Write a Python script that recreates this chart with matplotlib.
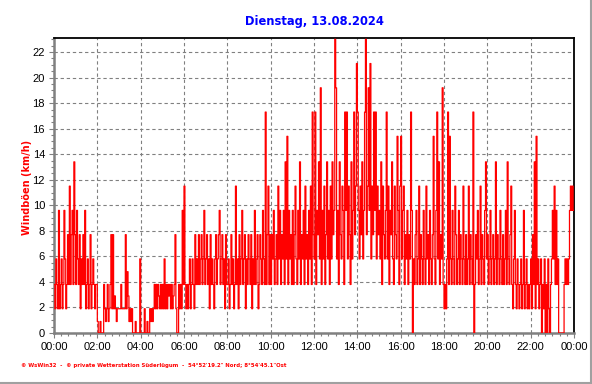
import numpy as np
import matplotlib
matplotlib.use("Agg")
import matplotlib.pyplot as plt
from matplotlib.lines import Line2D

title = "Dienstag, 13.08.2024"
ylabel = "Windböen (km/h)"
footer = "\u00a9 WsWin32  -  \u00a9 private Wetterstation Süderlügum  -  54°52'19.2\" Nord; 8°54'45.1\"Ost"

x_ticks_h = [0, 2, 4, 6, 8, 10, 12, 14, 16, 18, 20, 22, 24]
x_tick_labels = ["00:00", "02:00", "04:00", "06:00", "08:00", "10:00", "12:00",
                 "14:00", "16:00", "18:00", "20:00", "22:00", "00:00"]
y_ticks = [0, 2, 4, 6, 8, 10, 12, 14, 16, 18, 20, 22]

# wind gusts, 2.5-minute samples, one row per hour (km/h)
gust_rows = [
    [3.8, 1.9, 5.8, 3.8, 1.9, 9.6, 1.9, 3.8, 5.8, 1.9, 3.8, 9.6, 5.8, 1.9, 3.8, 7.7, 3.8, 11.5, 3.8, 7.7, 9.6, 3.8, 13.4, 7.7],
    [3.8, 9.6, 5.8, 3.8, 7.7, 1.9, 5.8, 3.8, 7.7, 3.8, 9.6, 1.9, 3.8, 5.8, 1.9, 3.8, 7.7, 1.9, 3.8, 5.8, 3.8, 1.9, 3.8, 3.8],
    [0.9, 0.0, 0.0, 0.9, 0.0, 0.0, 0.0, 3.8, 1.9, 0.9, 1.9, 3.8, 0.9, 1.9, 3.8, 7.7, 1.9, 7.7, 1.9, 2.9, 1.9, 0.9, 1.9, 1.9],
    [1.9, 1.9, 3.8, 1.9, 1.9, 1.9, 1.9, 7.7, 1.9, 4.8, 2.9, 0.9, 1.9, 0.9, 1.9, 0.0, 0.0, 0.0, 0.9, 0.0, 0.0, 0.0, 0.0, 5.8],
    [0.0, 0.0, 0.0, 0.0, 1.9, 0.0, 0.0, 0.9, 0.0, 0.0, 1.9, 0.9, 1.9, 0.9, 1.9, 3.8, 1.9, 3.8, 1.9, 3.8, 2.9, 1.9, 3.8, 1.9],
    [3.8, 1.9, 5.8, 1.9, 3.8, 1.9, 3.8, 2.9, 3.8, 1.9, 3.8, 1.9, 2.9, 3.8, 7.7, 1.9, 0.0, 0.0, 3.8, 1.9, 3.8, 1.9, 9.6, 3.8],
    [11.5, 3.8, 1.9, 3.8, 1.9, 3.8, 5.8, 1.9, 3.8, 5.8, 3.8, 1.9, 7.7, 3.8, 5.8, 3.8, 7.7, 3.8, 5.8, 7.7, 3.8, 5.8, 9.6, 3.8],
    [5.8, 7.7, 3.8, 5.8, 1.9, 7.7, 3.8, 5.8, 3.8, 1.9, 5.8, 7.7, 3.8, 5.8, 7.7, 9.6, 3.8, 5.8, 7.7, 3.8, 5.8, 1.9, 7.7, 3.8],
    [3.8, 5.8, 1.9, 3.8, 7.7, 3.8, 5.8, 1.9, 3.8, 11.5, 3.8, 5.8, 1.9, 7.7, 3.8, 5.8, 9.6, 3.8, 5.8, 7.7, 1.9, 5.8, 3.8, 7.7],
    [5.8, 3.8, 7.7, 1.9, 5.8, 3.8, 9.6, 3.8, 5.8, 7.7, 1.9, 3.8, 7.7, 5.8, 3.8, 9.6, 5.8, 3.8, 17.3, 3.8, 7.7, 11.5, 3.8, 7.7],
    [3.8, 7.7, 5.8, 9.6, 3.8, 5.8, 7.7, 3.8, 11.5, 5.8, 9.6, 3.8, 7.7, 5.8, 9.6, 3.8, 13.4, 5.8, 15.4, 3.8, 9.6, 5.8, 7.7, 3.8],
    [9.6, 3.8, 7.7, 11.5, 5.8, 3.8, 9.6, 5.8, 13.4, 3.8, 7.7, 5.8, 9.6, 3.8, 11.5, 5.8, 7.7, 3.8, 9.6, 5.8, 11.5, 3.8, 17.3, 7.7],
    [5.8, 17.3, 3.8, 9.6, 7.7, 13.4, 5.8, 19.2, 3.8, 9.6, 5.8, 11.5, 3.8, 7.7, 13.4, 5.8, 9.6, 3.8, 11.5, 5.8, 13.4, 7.7, 9.6, 23.0],
    [19.2, 5.8, 9.6, 3.8, 13.4, 7.7, 5.8, 11.5, 9.6, 3.8, 17.3, 9.6, 17.3, 5.8, 11.5, 7.7, 3.8, 13.4, 5.8, 9.6, 17.3, 7.7, 11.5, 21.1],
    [17.3, 9.6, 5.8, 11.5, 7.7, 13.4, 5.8, 9.6, 17.3, 23.0, 7.7, 11.5, 19.2, 9.6, 21.1, 5.8, 11.5, 7.7, 17.3, 9.6, 17.3, 5.8, 11.5, 7.7],
    [9.6, 5.8, 13.4, 3.8, 11.5, 7.7, 5.8, 9.6, 17.3, 5.8, 11.5, 3.8, 9.6, 7.7, 13.4, 5.8, 3.8, 11.5, 7.7, 5.8, 15.4, 9.6, 3.8, 11.5],
    [15.4, 5.8, 9.6, 11.5, 3.8, 7.7, 5.8, 9.6, 3.8, 7.7, 5.8, 17.3, 9.6, 0.0, 5.8, 3.8, 7.7, 9.6, 3.8, 5.8, 11.5, 3.8, 7.7, 5.8],
    [3.8, 9.6, 5.8, 3.8, 11.5, 5.8, 7.7, 3.8, 9.6, 5.8, 3.8, 7.7, 15.4, 5.8, 3.8, 9.6, 17.3, 5.8, 13.4, 3.8, 7.7, 5.8, 19.2, 3.8],
    [1.9, 3.8, 1.9, 5.8, 17.3, 3.8, 15.4, 5.8, 3.8, 9.6, 5.8, 3.8, 11.5, 7.7, 3.8, 5.8, 9.6, 3.8, 7.7, 5.8, 3.8, 11.5, 5.8, 3.8],
    [7.7, 3.8, 5.8, 11.5, 3.8, 7.7, 5.8, 3.8, 17.3, 0.0, 3.8, 7.7, 5.8, 9.6, 3.8, 5.8, 11.5, 3.8, 7.7, 5.8, 3.8, 9.6, 13.4, 5.8],
    [7.7, 3.8, 5.8, 9.6, 3.8, 5.8, 7.7, 3.8, 5.8, 13.4, 3.8, 7.7, 5.8, 3.8, 9.6, 5.8, 3.8, 7.7, 3.8, 5.8, 9.6, 3.8, 13.4, 5.8],
    [3.8, 7.7, 11.5, 3.8, 1.9, 5.8, 9.6, 3.8, 1.9, 5.8, 3.8, 1.9, 3.8, 5.8, 1.9, 3.8, 9.6, 1.9, 3.8, 5.8, 1.9, 3.8, 1.9, 3.8],
    [5.8, 1.9, 7.7, 3.8, 13.4, 1.9, 15.4, 3.8, 5.8, 1.9, 3.8, 5.8, 0.0, 3.8, 1.9, 5.8, 0.0, 3.8, 0.0, 5.8, 1.9, 0.0, 3.8, 5.8],
    [9.6, 5.8, 11.5, 3.8, 9.6, 3.8, 5.8, 0.0, 0.0, 0.0, 0.0, 0.0, 0.0, 3.8, 5.8, 3.8, 5.8, 3.8, 5.8, 9.6, 11.5, 9.6, 11.5, 9.6],
]

gust = np.array([v for row in gust_rows for v in row])
n = len(gust)
t = np.arange(n + 1) * 24.0 / n
g = np.append(gust, gust[-1])

W, H = 592, 384
fig = plt.figure(figsize=(W / 100, H / 100), dpi=100)
fig.patch.set_facecolor("white")
ax = fig.add_axes([54 / W, 1 - 333 / H, (574 - 54) / W, (333 - 38) / H])

ax.step(t, g, where="post", color="#ff0000", lw=0.9, zorder=3)

ax.set_xlim(0, 24)
ax.set_ylim(0, 23.1)
ax.set_xticks(x_ticks_h)
ax.set_xticklabels(x_tick_labels, fontfamily="Liberation Sans", fontsize=8)
ax.set_yticks(y_ticks)
ax.set_yticklabels([str(v) for v in y_ticks], fontfamily="Liberation Sans", fontsize=8)
ax.set_xticks(np.arange(0, 24.01, 1 / 3), minor=True)
ax.set_yticks(np.arange(0, 23.01, 0.5), minor=True)
ax.tick_params(which="major", length=3.5, width=0.8, color="#808080", pad=3)
ax.tick_params(which="minor", length=2, width=0.8, color="#808080")

ax.grid(True, which="major", color="#808080", linestyle=(0, (3, 2.5)), lw=0.8, zorder=1)
ax.set_axisbelow(True)

for s in ("top", "right"):
    ax.spines[s].set_color("black")
    ax.spines[s].set_linewidth(1.3)
for s in ("left", "bottom"):
    ax.spines[s].set_color("#808080")
    ax.spines[s].set_linewidth(1.8)

fig.text(314 / W, 1 - 22 / H, title, color="#0000ff", fontweight="bold",
         fontfamily="DejaVu Sans", fontsize=8.3, ha="center", va="center")
fig.text(27 / W, 1 - 187 / H, ylabel, color="#ff0000", fontweight="bold",
         fontfamily="DejaVu Sans", fontsize=7, rotation=90, ha="center", va="center")
fig.text(21 / W, 1 - 365 / H, footer, color="#ff0000", fontweight="bold",
         fontfamily="DejaVu Sans", fontsize=3.9, ha="left", va="center")

fig.add_artist(Line2D([590.5 / W, 590.5 / W], [0, 1], color="#a0a0a0", lw=1.5))
fig.add_artist(Line2D([0, 1], [1 - 382.5 / H, 1 - 382.5 / H], color="#a0a0a0", lw=1.5))

fig.savefig("out.png", dpi=100, facecolor="white")
